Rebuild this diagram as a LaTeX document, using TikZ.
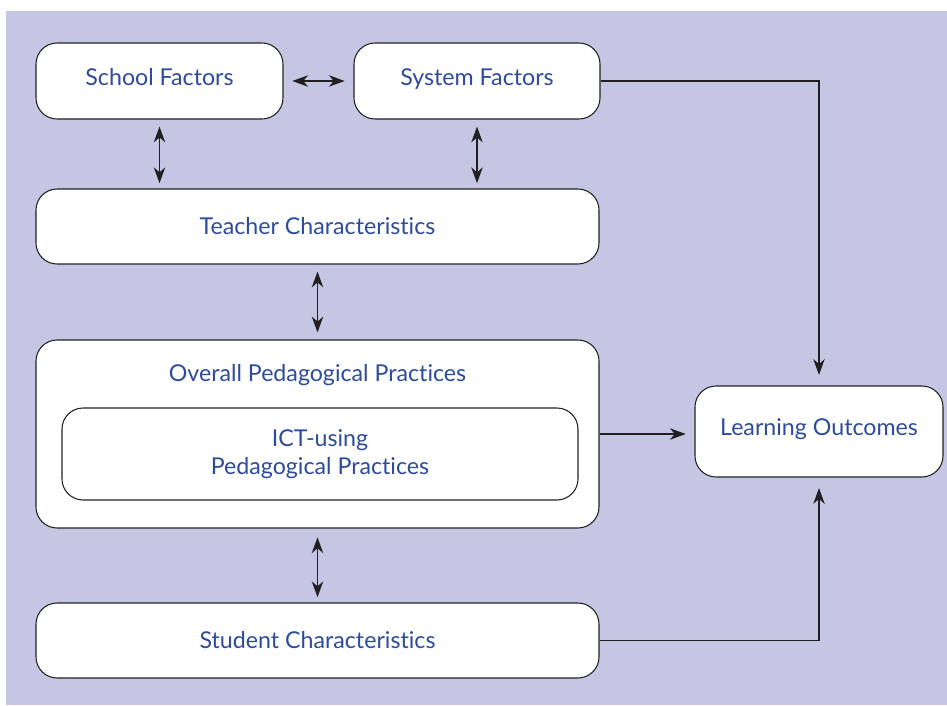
\documentclass[tikz,border=0pt]{standalone}
\usepackage{fontspec}
\setmainfont{Lato}[Ligatures={NoCommon}]
\usetikzlibrary{arrows.meta}

\definecolor{bgviolet}{HTML}{C5C6E3}
\definecolor{textblue}{HTML}{2E4C9C}
\definecolor{linegray}{HTML}{231F20}

\tikzset{
  factorbox/.style={draw=linegray, fill=white, rounded corners=12pt, line width=0.6pt,
    text=textblue, font=\fontsize{13.2}{16}\selectfont, align=center, inner sep=0pt},
  lifted/.style={text depth=5pt},
  flow/.style={draw=linegray, line width=0.6pt, -{Stealth[length=9pt,width=6.5pt,inset=2.8pt]}},
  twoway/.style={draw=linegray, line width=0.7pt,
    {Stealth[length=9pt,width=6.5pt,inset=2.8pt]}-{Stealth[length=9pt,width=6.5pt,inset=2.8pt]}}
}

\begin{document}
\begin{tikzpicture}[x=0.02cm, y=-0.02cm]
% Fix the page size and paint the background
\useasboundingbox (0,0) rectangle (947,706);
\fill[bgviolet] (6,11) rectangle (947,705);
% Top row of factors
\node[factorbox, lifted, minimum width=247*0.02cm, minimum height=76*0.02cm] (school) at (159.5,81) {School Factors};
\node[factorbox, lifted, minimum width=246*0.02cm, minimum height=76*0.02cm] (system) at (477,81) {System Factors};
% Teacher and student boxes
\node[factorbox, minimum width=563*0.02cm, minimum height=75*0.02cm] (teacher) at (317.5,226.5) {Teacher Characteristics};
\node[factorbox, minimum width=563*0.02cm, minimum height=75*0.02cm] (student) at (317.5,640.5) {Student Characteristics};
% Pedagogical practices with the ICT box inside
\node[factorbox, minimum width=563*0.02cm, minimum height=188*0.02cm] (overall) at (317.5,434) {};
\node[text=textblue, font=\fontsize{13.2}{16}\selectfont] (overalltitle) at (317.5,375) {Overall Pedagogical Practices};
\node[factorbox, minimum width=516*0.02cm, minimum height=92*0.02cm] (ict) at (320,454) {ICT-using\\Pedagogical Practices};
% Outcome box
\node[factorbox, lifted, minimum width=248*0.02cm, minimum height=91*0.02cm] (learning) at (819,431.5) {Learning Outcomes};
% Two-way links
\draw[twoway, shorten <=5pt, shorten >=5pt] (school.east) -- (system.west);
\draw[twoway, shorten <=4pt, shorten >=3pt] (school.south) -- (school.south |- teacher.north);
\draw[twoway, shorten <=4pt, shorten >=3pt] (system.south) -- (system.south |- teacher.north);
\draw[twoway, shorten <=4pt, shorten >=4pt] (teacher.south) -- (overall.north);
\draw[twoway, shorten <=5pt, shorten >=3pt] (overall.south) -- (student.north);
% Links into the outcomes
\draw[flow, shorten >=6pt] (system.east) -| (learning.north);
\draw[flow, shorten >=5pt] (overall.east) -- (overall.east -| learning.west);
\draw[flow, shorten >=6pt] (student.east) -| (learning.south);
\end{tikzpicture}
\end{document}
